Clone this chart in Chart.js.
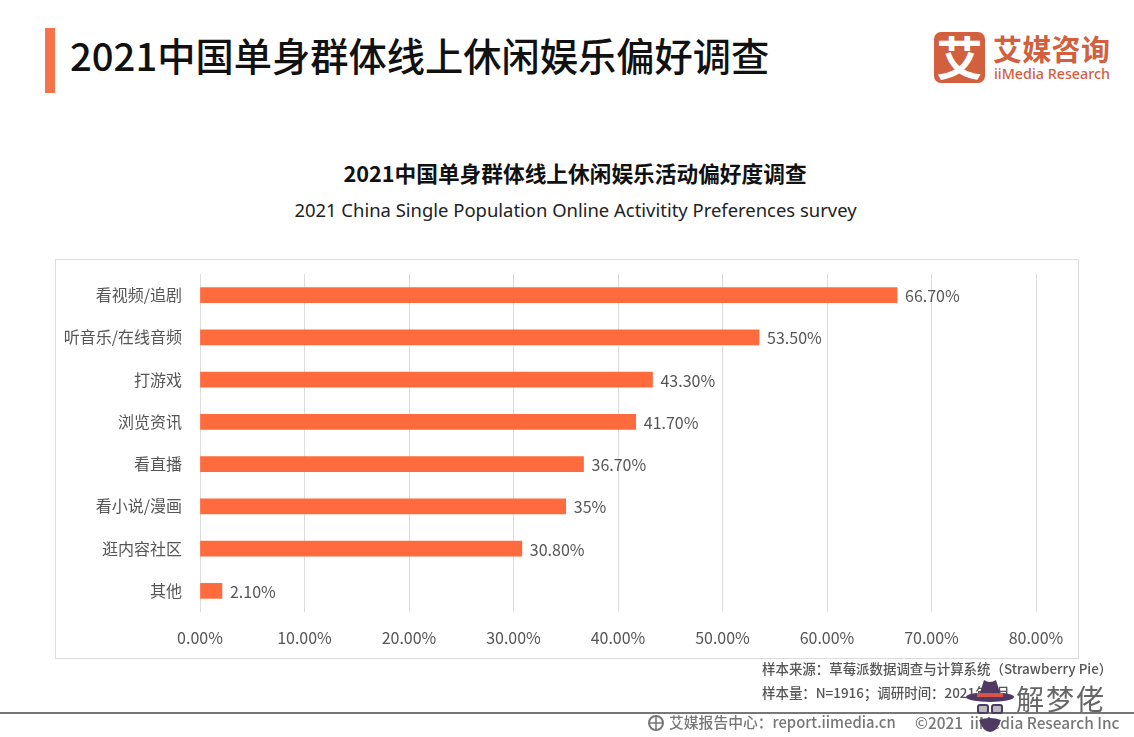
<!DOCTYPE html>
<html lang="zh"><head><meta charset="utf-8">
<script src="https://cdn.jsdelivr.net/npm/chart.js@4"></script>
<style>
html,body{margin:0;padding:0;background:#fff;overflow:hidden}
body{width:1134px;height:737px;position:relative;font-family:"Noto Sans CJK SC","Noto Sans",sans-serif}
.t{position:absolute;white-space:nowrap;line-height:1}
#wrap{position:absolute;left:0;top:0;width:1134px;height:737px}
#frame{position:absolute;left:55px;top:259px;width:1022px;height:398px;border:1px solid #dcdcdc}
</style></head><body>
<div style="position:absolute;left:45px;top:28px;width:10px;height:65px;background:#f4744a"></div>
<div class="t" style="left:70px;top:36px;font-size:38.25px;font-weight:500;color:#111">2021中国单身群体线上休闲娱乐偏好调查</div>
<div style="position:absolute;left:934px;top:32px;width:51px;height:51px;border-radius:7px;background:#d2603f"></div>
<div class="t" style="left:934px;top:32px;width:51px;text-align:center;font-size:46px;font-weight:700;color:#fff">艾</div>
<div class="t" style="left:993px;top:34px;font-size:29px;font-weight:700;color:#d2603f;letter-spacing:.3px">艾媒咨询</div>
<div class="t" style="left:994px;top:67px;font-size:14.3px;font-weight:500;color:#d2603f;font-family:'Noto Sans'">iiMedia Research</div>
<div class="t" style="left:0;width:1150px;text-align:center;top:162px;font-size:21.7px;font-weight:700;color:#111">2021中国单身群体线上休闲娱乐活动偏好度调查</div>
<div class="t" style="left:0;width:1151px;text-align:center;top:201px;font-size:18.45px;color:#222;font-family:'Noto Sans'">2021 China Single Population Online Activitity Preferences survey</div>
<div id="frame"></div>
<div id="wrap"><canvas id="c" width="1134" height="737"></canvas></div>
<div class="t" style="left:762px;top:662px;font-size:13.45px;font-weight:500;color:#555">样本来源：草莓派数据调查与计算系统（Strawberry Pie）</div>
<div class="t" style="left:762px;top:686px;font-size:13.45px;font-weight:500;color:#555">样本量：N=1916；调研时间：2021年3月</div>
<div style="position:absolute;left:0;top:712px;width:1134px;height:2px;background:#777"></div>
<svg style="position:absolute;left:647px;top:714px" width="18" height="18" viewBox="0 0 18 18"><circle cx="9" cy="9" r="7" fill="none" stroke="#777" stroke-width="2"/><path d="M2 9H16M9 2V16" stroke="#777" stroke-width="1.5"/></svg>
<div class="t" style="left:669px;top:715px;font-size:14.8px;font-weight:500;color:#777">艾媒报告中心：report.iimedia.cn</div>
<div class="t" style="left:915px;top:715px;font-size:15.4px;font-weight:500;color:#777">©2021&nbsp; iiMedia Research Inc</div>
<svg style="position:absolute;left:965px;top:678px" width="50" height="56" viewBox="0 0 50 56"><path d="M14 18L19 2Q25 6 31 2L36 18Z" fill="#4f3a63"/><ellipse cx="25" cy="19" rx="24" ry="5" fill="#4f3a63"/><rect x="12" y="15" width="26" height="4" fill="#d8534a"/><rect x="13" y="27" width="10" height="8" rx="2" fill="#bbb" stroke="#4f3a63" stroke-width="2"/><rect x="27" y="27" width="10" height="8" rx="2" fill="#bbb" stroke="#4f3a63" stroke-width="2"/><path d="M14 42Q25 38 36 42Q32 54 25 54Q18 54 14 42Z" fill="#4f3a63"/></svg>
<div class="t" style="left:1016px;top:684px;font-size:28px;color:#666;letter-spacing:2px">解梦佬</div>
<script>
const categories = ["看视频/追剧","听音乐/在线音频","打游戏","浏览资讯","看直播","看小说/漫画","逛内容社区","其他"];
const values = [66.7,53.5,43.3,41.7,36.7,35,30.8,2.1];
const valueLabels = ["66.70%","53.50%","43.30%","41.70%","36.70%","35%","30.80%","2.10%"];
const barColor = "#ff6b3d";
const fontFamily = '"Noto Sans CJK SC","Noto Sans",sans-serif';
const barLabels = {
  id:"barLabels",
  afterDatasetsDraw(chart){
    const {ctx} = chart, meta = chart.getDatasetMeta(0);
    ctx.save();
    ctx.font = "16px "+fontFamily; ctx.fillStyle="#555"; ctx.textBaseline="middle"; ctx.textAlign="left";
    meta.data.forEach((el,i)=>ctx.fillText(valueLabels[i], el.x+8, el.y+1));
    ctx.restore();
  }
};
new Chart(document.getElementById("c"),{
  type:"bar",
  data:{labels:categories,datasets:[{data:values,backgroundColor:barColor,barThickness:15,borderWidth:0}]},
  plugins:[barLabels],
  options:{
    indexAxis:"y",responsive:false,animation:false,
    layout:{padding:{left:0,top:274,right:98,bottom:0}},
    plugins:{legend:{display:false},tooltip:{enabled:false},title:{display:false}},
    scales:{
      x:{min:0,max:80,afterFit(s){s.height=125},
        ticks:{stepSize:10,padding:16,maxRotation:0,color:"#555",font:{size:16,family:fontFamily},callback:v=>v.toFixed(2)+"%"},
        grid:{color:"#dcdcdc",lineWidth:1,drawTicks:false},border:{display:false}},
      y:{afterFit(s){s.width=200},
        ticks:{padding:10,color:"#555",font:{size:16,family:fontFamily}},
        grid:{display:false},border:{display:false}}
    }
  }
});
</script></body></html>
